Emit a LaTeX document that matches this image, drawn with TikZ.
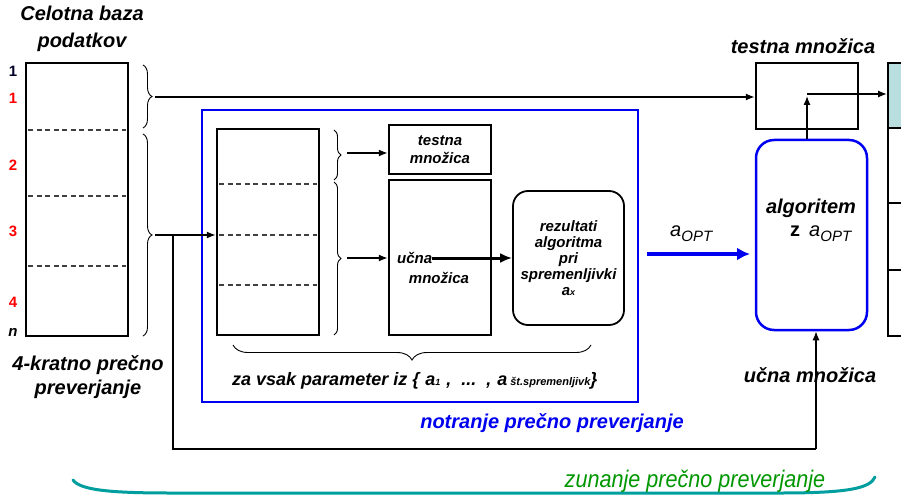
\documentclass[tikz,border=0pt]{standalone}
\usepackage{fontspec}
\setmainfont{Liberation Sans}
\usetikzlibrary{arrows.meta,decorations.pathreplacing}
\definecolor{tealfill}{RGB}{184,222,224}
\definecolor{arcteal}{RGB}{0,158,158}
\definecolor{zgreen}{RGB}{0,150,0}
\definecolor{nblue}{RGB}{0,0,240}
\begin{document}
\begin{tikzpicture}[x=1pt,y=-1pt,
  bi/.style={font=\fontsize{#1}{#1}\selectfont\bfseries\itshape, inner sep=0pt},
  bi/.default=20,
  numl/.style={font=\fontsize{15}{15}\selectfont\bfseries, text=red, inner sep=0pt},
  sbox/.style={draw, line width=2.5pt, inner sep=0pt},
  conn/.style={line width=1.3pt, -{Latex[length=9pt,width=7pt]}},
  cline/.style={line width=1.3pt},
  dline/.style={line width=1.5pt, dash pattern=on 5pt off 3.5pt, black!75},
  brc/.style={decorate, decoration={brace, amplitude=#1}, line width=0.9pt},
  brc/.default=9pt]
\useasboundingbox (0,0) rectangle (901,497);

% title
\node[bi, align=center, font=\fontsize{20}{27}\selectfont\bfseries\itshape] (title) at (82,29) {Celotna baza\\podatkov};

% left big box
\node[sbox, minimum width=102pt, minimum height=273pt] (big) at (77,199.5) {};
\draw[dline] (28,130) -- (126,130);
\draw[dline] (28,196) -- (126,196);
\draw[dline] (28,266) -- (126,266);

\node[numl, text=black!85!blue] (n1a) at (13,71) {1};
\node[numl] (n1b) at (13,98) {1};
\node[numl] (n2) at (13,165) {2};
\node[numl] (n3) at (13,231) {3};
\node[numl] (n4) at (13,302) {4};
\node[numl, text=black, font=\fontsize{15}{15}\selectfont\bfseries\itshape] (nn) at (13,332) {n};

\node[bi, align=center, font=\fontsize{20}{24}\selectfont\bfseries\itshape] (kfold) at (88,377) {4-kratno prečno\\preverjanje};

% left braces
\draw[brc] (143,65) -- (143,128);
\draw[brc] (143,134) -- (143,336);
\coordinate (b1t) at (155,97);
\coordinate (b2t) at (155,235);

% blue frame
\draw[nblue, line width=2.5pt] (202,110) rectangle (638,402);

% inner left box
\node[sbox, minimum width=102pt, minimum height=206pt] (inl) at (268,232) {};
\draw[dline] (219,184) -- (317,184);
\draw[dline] (219,235) -- (317,235);
\draw[dline] (219,285) -- (317,285);

% inner braces
\draw[brc=7pt] (334,130) -- (334,180);
\draw[brc=7pt] (334,182) -- (334,335);
\coordinate (ib1) at (347,153);
\coordinate (ib2) at (347,258);

% inner test / train boxes
\node[sbox, minimum width=102pt, minimum height=49pt, align=center, font=\fontsize{15}{18}\selectfont\bfseries\itshape] (tin) at (440,149.5) {testna\\množica};
\node[sbox, minimum width=102pt, minimum height=155pt] (uin) at (440,257.5) {};
\node[bi=15, anchor=west] (ucna) at (397,258) {učna};
\node[bi=15] (mnoz) at (439,278) {množica};

% results box
\node[draw, line width=1.8pt, rounded corners=15pt, minimum width=111pt, minimum height=134pt, inner sep=0pt, align=center,
  font=\fontsize{15}{16}\selectfont\bfseries\itshape] (res) at (568.5,258)
  {rezultati\\algoritma\\pri\\spremenljivki\\a{\fontsize{9}{9}\selectfont x}};

% bottom brace and caption
\draw[brc=15pt] (591,345) -- (233,345);
\node[bi=18, anchor=west] (zavsak) at (232,381) {za vsak parameter iz \{\hspace{6pt}a{\fontsize{9}{9}\selectfont 1}\hspace{6pt},\hspace{10pt}...\hspace{10pt},\hspace{6pt}a\hspace{3pt}{\fontsize{11}{11}\selectfont št.spremenljivk}\}};
\node[bi, text=nblue] (notr) at (552,423) {notranje prečno preverjanje};

% right side
\node[bi] (testlbl) at (803,46) {testna množica};
\node[sbox, minimum width=102pt, minimum height=66pt] (testR) at (807,96) {};
\node[draw=nblue, line width=2.5pt, rounded corners=18pt, minimum width=111pt, minimum height=190pt, inner sep=0pt] (alg) at (811.5,235) {};
\node[bi] (algt) at (811,208) {algoritem};
\node[inner sep=0pt, anchor=west] (algz) at (790,234) {\fontsize{20}{20}\selectfont\bfseries z\hspace{9pt}\mdseries\itshape a\raisebox{-5pt}{\fontsize{15}{15}\selectfont OPT}};
\node[bi] (ucnaR) at (810,375) {učna množica};

% teal table on right
\fill[tealfill] (888,63) rectangle (910,128);
\draw[line width=2.5pt] (888,63) rectangle (912,336);
\draw[line width=1.2pt] (888,128) -- (912,128);
\draw[line width=1.2pt] (888,203) -- (912,203);
\draw[line width=1.2pt] (888,270) -- (912,270);
\coordinate (tealin) at (887,94);

% aOPT arrow
\coordinate (aos) at (647,254);
\coordinate (aoe) at (750,254);
\draw[nblue, line width=4pt, -{Latex[length=13pt,width=13pt]}] (aos) -- (aoe);
\node[inner sep=0pt, anchor=west] (aopt) at (670,234) {\fontsize{20}{20}\selectfont\itshape a\raisebox{-5pt}{\fontsize{15}{15}\selectfont OPT}};

% connectors
\draw[conn] (b1t) -- (testR.west |- b1t);
\draw[conn] (b2t) -- (inl.west |- b2t);
\draw[conn] (ib1) -- (tin.west |- ib1);
\draw[conn] (ib2) -- (uin.west |- ib2);
\draw[line width=3pt, -{Latex[length=12pt,width=10pt]}] (ucna.east) -- (res.west |- ucna.east);
\coordinate (up1) at (807,96);
\draw[conn] (alg.north -| up1) -- (up1);
\coordinate (el) at (807,94);
\draw[conn] (el) -- (tealin);
\coordinate (vb) at (173,235);
\coordinate (bl) at (173,449);
\coordinate (br) at (816,449);
\draw[cline] (vb) -- (bl) -- (br);
\draw[conn] (br) -- (alg.south -| br);

% outer brace (teal arc) and label
\draw[arcteal, line width=3pt, line cap=round] (73,480) .. controls (80,490) and (110,493) .. (170,493) -- (780,493) .. controls (850,493) and (870,488) .. (875,477);
\node[inner sep=0pt, text=zgreen] (zun) at (695,481) {\scalebox{0.9}[1]{\fontsize{24}{24}\selectfont\itshape zunanje prečno preverjanje}};
\end{tikzpicture}
\end{document}
